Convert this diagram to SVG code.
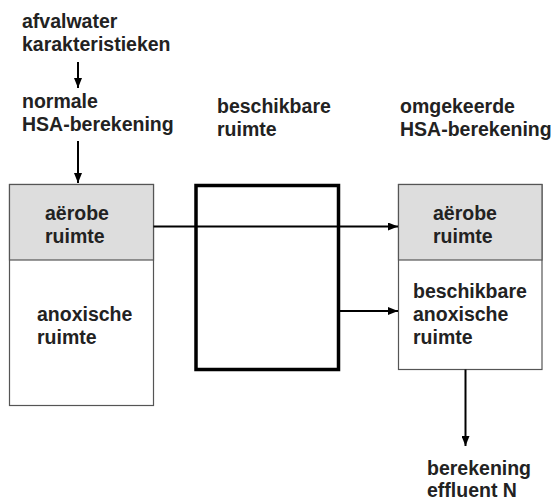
<svg xmlns="http://www.w3.org/2000/svg" width="553" height="502" viewBox="0 0 553 502">
<style>
text{font-family:"Liberation Sans",Arial,sans-serif;font-weight:bold;font-size:19.5px;fill:#222}
.box{fill:#fff;stroke:#555;stroke-width:1.2}
.gray{fill:#dddddd;stroke:#555;stroke-width:1.2}
.thick{fill:#fff;stroke:#000;stroke-width:3.5}
.con{stroke:#000;stroke-width:2;fill:none;marker-end:url(#ah)}
.ln{stroke:#000;stroke-width:2;fill:none}
</style>
<defs>
<marker id="ah" markerWidth="10" markerHeight="8" refX="10" refY="4" orient="auto" markerUnits="userSpaceOnUse">
<path d="M0,0 L10,4 L0,8 Z" fill="#000"/>
</marker>
</defs>
<rect width="553" height="502" fill="#fff"/>
<g id="afvalwater">
<text x="22" y="28">afvalwater</text>
<text x="22" y="51">karakteristieken</text>
</g>
<g id="normale">
<text x="22" y="108">normale</text>
<text x="22" y="131">HSA-berekening</text>
</g>
<g id="beschikbare-label">
<text x="217" y="113">beschikbare</text>
<text x="217" y="136">ruimte</text>
</g>
<g id="omgekeerde">
<text x="400" y="113">omgekeerde</text>
<text x="400" y="136">HSA-berekening</text>
</g>
<g id="left-box">
<rect class="box" x="9.5" y="184.5" width="144" height="221"/>
<rect class="gray" x="9.5" y="184.5" width="144" height="75.5"/>
<text x="45" y="220">aërobe</text>
<text x="45" y="243">ruimte</text>
<text x="37" y="321">anoxische</text>
<text x="37" y="344">ruimte</text>
</g>
<g id="middle-box">
<rect class="thick" x="196" y="185.5" width="142.5" height="184"/>
</g>
<g id="right-box">
<rect class="box" x="398.5" y="184.5" width="143.5" height="185"/>
<rect class="gray" x="398.5" y="184.5" width="143.5" height="75.5"/>
<text x="433" y="220">aërobe</text>
<text x="433" y="243">ruimte</text>
<text x="413" y="298">beschikbare</text>
<text x="413" y="321">anoxische</text>
<text x="413" y="344">ruimte</text>
</g>
<g id="effluent">
<text x="427" y="475">berekening</text>
<text x="427" y="497">effluent N</text>
</g>
<g id="connectors">
<line class="con" x1="78" y1="62" x2="78" y2="88"/>
<line class="con" x1="78" y1="141" x2="78" y2="183"/>
<line class="con" x1="153.5" y1="226.5" x2="398" y2="226.5"/>
<line class="con" x1="338.5" y1="311" x2="398" y2="311"/>
<line class="con" x1="465.5" y1="369.5" x2="465.5" y2="446"/>
</g>
</svg>
